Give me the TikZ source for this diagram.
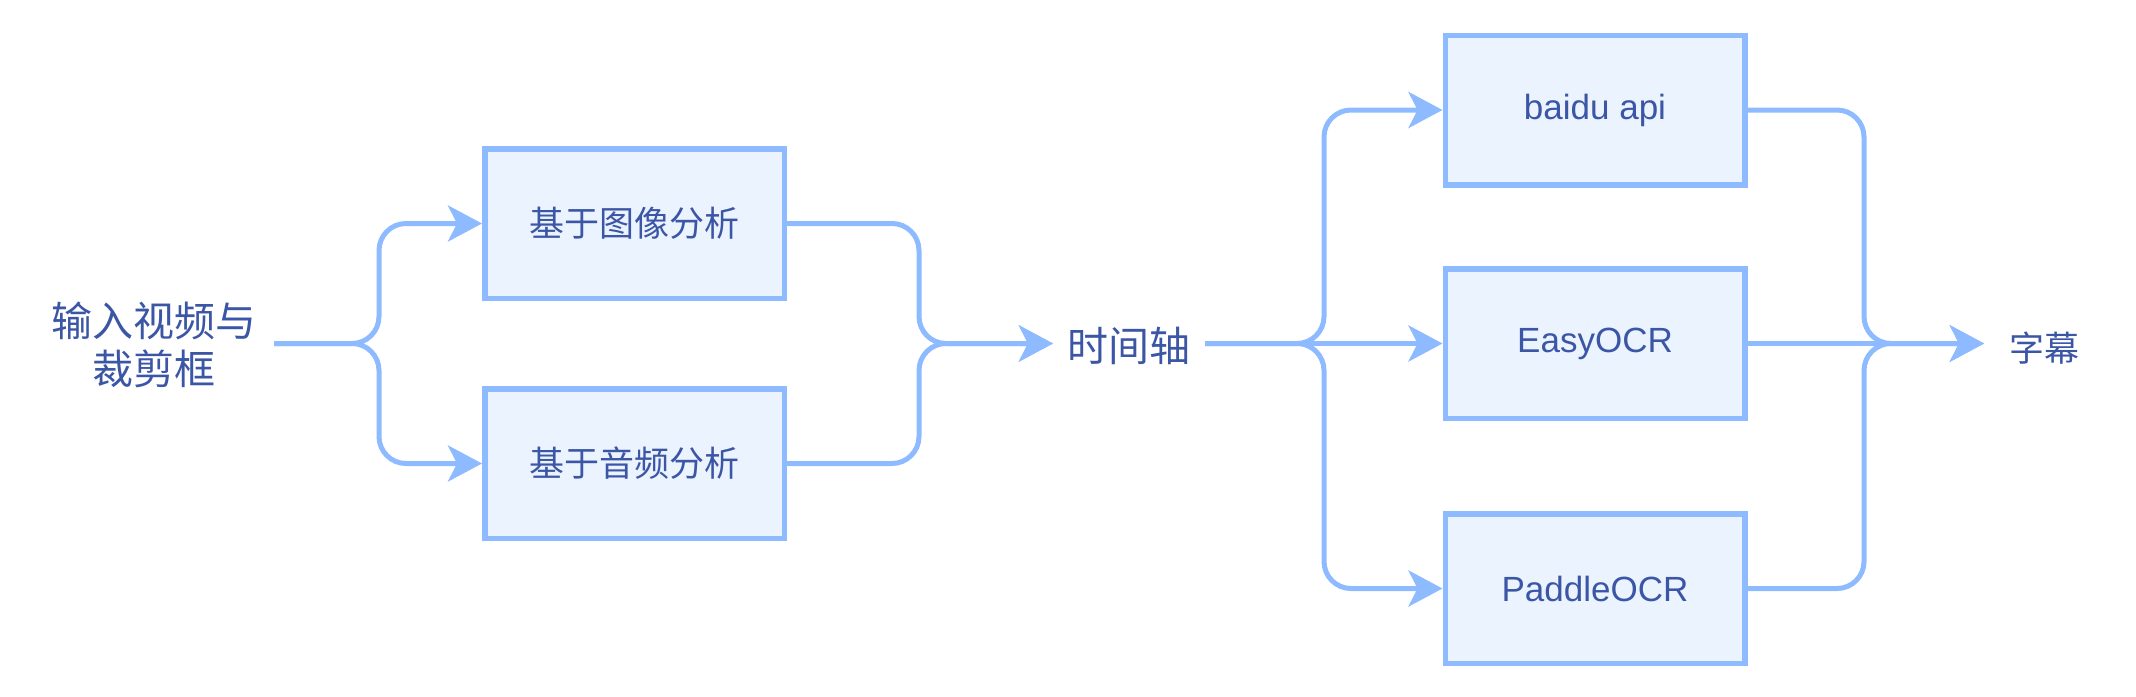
\documentclass[tikz,border=0pt]{standalone}
\usepackage{fontspec}
\setmainfont{Liberation Sans}
\newfontfamily\cjk{Noto Sans CJK SC}
\usetikzlibrary{arrows.meta}
\definecolor{lineblue}{HTML}{8EBBFF}
\definecolor{fillblue}{HTML}{EBF3FF}
\definecolor{txtblue}{HTML}{3C56A6}
\tikzset{
  procbox/.style={draw=lineblue, fill=fillblue, line width=5.5pt, minimum width=299.5pt, minimum height=149.5pt, inner sep=0pt, text=txtblue, font=\fontsize{35}{42}\selectfont},
  lbl/.style={inner sep=0pt, text=txtblue},
  conn/.style={draw=lineblue, line width=5pt, rounded corners=27pt},
  arr/.style={conn, -{Stealth[length=34pt, width=36pt, inset=9pt]}},
}
\begin{document}
\begin{tikzpicture}[x=1pt, y=-1pt]
\useasboundingbox (0,0) rectangle (2136,696);
% nodes
\node[lbl, align=center, font=\cjk\fontsize{41}{48}\selectfont] (in) at (154,345) {输入视频与\\裁剪框};
\node[procbox, font=\cjk\fontsize{35}{42}\selectfont] (img) at (634.5,223.5) {基于图像分析};
\node[procbox, font=\cjk\fontsize{35}{42}\selectfont] (aud) at (634.5,463.5) {基于音频分析};
\node[lbl, font=\cjk\fontsize{41}{48}\selectfont] (tl) at (1129,346) {时间轴};
\node[procbox] (baidu) at (1595,110) {baidu api};
\node[procbox] (easy) at (1595,343.5) {EasyOCR};
\node[procbox] (paddle) at (1595,588.5) {PaddleOCR};
\node[lbl, font=\cjk\fontsize{35}{42}\selectfont] (sub) at (2044,348) {字幕};
% junction coordinates
\coordinate (s1) at (274,343.5);
\coordinate (j1) at (379,343.5);
\coordinate (j2) at (919,343.5);
\coordinate (t1) at (1053,343.5);
\coordinate (s2) at (1205,343.5);
\coordinate (j3) at (1324,343.5);
\coordinate (j4) at (1864,343.5);
\coordinate (t2) at (1984,343.5);
% connectors
\draw[arr] (s1) -- (j1) |- (img.west);
\draw[arr] (s1) -- (j1) |- (aud.west);
\draw[arr] (img.east) -| (j2) -- (t1);
\draw[arr] (aud.east) -| (j2) -- (t1);
\draw[arr] (s2) -- (j3) |- (baidu.west);
\draw[arr] (s2) -- (easy.west);
\draw[arr] (s2) -- (j3) |- (paddle.west);
\draw[arr] (baidu.east) -| (j4) -- (t2);
\draw[arr] (easy.east) -- (t2);
\draw[arr] (paddle.east) -| (j4) -- (t2);
\end{tikzpicture}
\end{document}
